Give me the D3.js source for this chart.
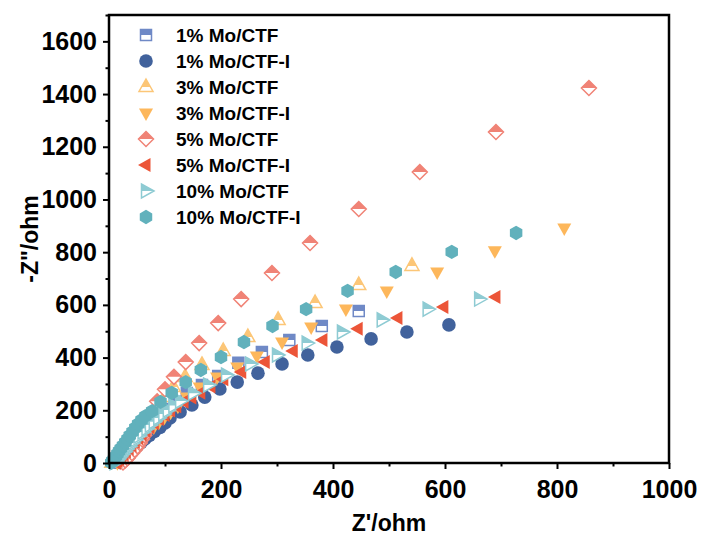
<!DOCTYPE html>
<html><head><meta charset="utf-8">
<script src="https://cdn.jsdelivr.net/npm/d3@7"></script>
<style>body{margin:0;background:#fff}svg{display:block}text{font-family:"Liberation Sans",Arial,sans-serif;font-weight:bold}</style>
</head><body><svg id="c" width="702" height="548"></svg>
<script>
// ---- data (Z' , -Z'') in ohm ----
const seriesNames = ["1% Mo/CTF","1% Mo/CTF-I","3% Mo/CTF","3% Mo/CTF-I","5% Mo/CTF","5% Mo/CTF-I","10% Mo/CTF","10% Mo/CTF-I"];
const xTicks = [0,200,400,600,800,1000];
const yTicks = [0,200,400,600,800,1000,1200,1400,1600];

const s1x = [12,15,19,23,27,32,37,42,48,54,61,68,76,85,95,106,118,139,166,195,231,273,322,380,446];
const s1y = [1,8,16,25,35,46,57,69,82,96,111,126,142,160,180,205,232,266,296,330,380,421,467,520,577];
const s2x = [20,24,28,33,38,44,50,57,64,72,81,91,100,109,127,148,171,198,229,266,309,355,407,468,532,607];
const s2y = [2,10,19,29,40,52,64,77,91,105,120,135,152,171,194,220,250,281,307,341,376,410,440,471,497,524];
const s3x = [5,8,11,14,17,21,25,29,34,39,45,51,58,66,75,86,100,115,136,166,204,248,302,368,446,541];
const s3y = [1,8,16,25,35,45,56,68,81,95,110,126,143,162,183,212,250,288,326,372,425,478,543,607,675,748];
const s4x = [15,19,23,27,32,37,43,49,56,63,71,80,89,99,110,123,139,162,193,229,264,309,361,423,496,586,689,813];
const s4y = [1,9,18,28,38,50,62,75,89,104,120,137,155,174,193,215,250,288,326,364,406,459,516,584,653,725,805,892];
const s5x = [25,29,33,37,41,46,51,55,59,63,67,71,75,80,86,100,116,137,161,195,236,291,359,446,555,691,857];
const s5y = [2,10,18,28,38,50,63,76,90,105,122,140,160,190,234,280,327,383,455,531,622,721,835,964,1104,1256,1423];
const s6x = [13,16,19,23,27,31,36,41,47,53,59,66,73,81,90,100,110,121,134,148,164,182,205,237,279,329,382,445,516,598,691];
const s6y = [1,8,16,25,34,44,55,67,80,94,108,122,137,152,167,182,199,215,232,249,267,290,318,345,383,425,467,509,550,592,630];
const s7x = [10,13,16,19,23,27,31,36,41,47,53,60,67,73,80,88,97,105,115,127,150,177,209,252,300,353,416,487,569,661];
const s7y = [1,8,16,24,33,43,53,64,76,89,103,118,131,144,157,171,186,201,218,235,265,296,334,376,410,455,497,543,584,622];
const s8x = [4,6,9,12,15,18,21,25,29,33,37,42,47,52,58,65,77,92,112,137,164,200,241,292,352,426,512,612,727];
const s8y = [1,8,16,25,35,45,55,66,78,91,104,118,133,148,163,178,197,232,266,307,353,402,459,520,584,653,725,801,873];

const colors = ["#6f89c6","#41629c","#fcc677","#fdb75b","#f08376","#ec5538","#8ecbd3","#61b1bc"];
const shapes = ["square","circle","up","down","diamond","left","right","hexagon"];
const halfFilled = [true,false,true,false,true,false,true,false];

const xs=[s1x,s2x,s3x,s4x,s5x,s6x,s7x,s8x], ys=[s1y,s2y,s3y,s4y,s5y,s6y,s7y,s8y];
const series = seriesNames.map((n,i)=>({name:n,color:colors[i],shape:shapes[i],half:halfFilled[i],
  pts:xs[i].map((x,j)=>({x:x,y:ys[i][j]}))}));

// ---- layout ----
const svg = d3.select("#c");
const L=109,R=669,T=15,B=463;
const x = d3.scaleLinear().domain([0,1000]).range([L,R]);
const y = d3.scaleLinear().domain([0,1700]).range([B,T]);

function shapePath(s){
  const p=(a)=>"M"+a.map(q=>q.join(",")).join("L")+"Z";
  switch(s){
    case "circle": return d3.symbol(d3.symbolCircle,145)();
    case "square": return p([[-5.5,-5.5],[5.5,-5.5],[5.5,5.5],[-5.5,5.5]]);
    case "up": return p([[0,-8],[7,4.5],[-7,4.5]]);
    case "down": return p([[0,8],[7,-4.5],[-7,-4.5]]);
    case "left": return p([[-8,0],[4.5,-7],[4.5,7]]);
    case "right": return p([[8,0],[-4.5,-7],[-4.5,7]]);
    case "diamond": return p([[0,-7.5],[7.5,0],[0,7.5],[-7.5,0]]);
    case "hexagon": { const a=[]; for(let k=0;k<6;k++){const t=Math.PI/180*(-90+60*k);a.push([7.2*Math.cos(t),7.2*Math.sin(t)]);} return p(a);}
  }
}
const defs = svg.append("defs");
defs.append("clipPath").attr("id","tophalf").append("rect").attr("x",-20).attr("y",-20).attr("width",40).attr("height",20);

function marker(g,s){
  const d=shapePath(s.shape);
  if(s.half){
    g.append("path").attr("d",d).attr("fill","#fff").attr("stroke",s.color).attr("stroke-width",1.5);
    g.append("path").attr("d",d).attr("fill",s.color).attr("clip-path","url(#tophalf)");
  } else {
    g.append("path").attr("d",d).attr("fill",s.color);
  }
}

// data
series.forEach(s=>{
  const g=svg.append("g");
  s.pts.forEach(pt=>{
    const m=g.append("g").attr("transform",`translate(${x(pt.x)},${y(pt.y)})`);
    marker(m,s);
  });
});

// frame
svg.append("rect").attr("x",L).attr("y",T).attr("width",R-L).attr("height",B-T).attr("fill","none").attr("stroke","#000").attr("stroke-width",2.5);

// axes
const xAx = d3.axisBottom(x).tickValues(xTicks).tickSize(6).tickSizeOuter(0).tickPadding(11).tickFormat(d3.format("d"));
svg.append("g").attr("transform",`translate(0,${B})`).call(xAx);
svg.append("g").attr("transform",`translate(0,${B})`).call(d3.axisBottom(x).tickValues(d3.range(100,1000,200)).tickSize(3.5).tickSizeOuter(0).tickFormat(""));
const yAx = d3.axisLeft(y).tickValues(yTicks).tickSize(6).tickSizeOuter(0).tickPadding(6).tickFormat(d3.format("d"));
svg.append("g").attr("transform",`translate(${L},0)`).call(yAx);
svg.append("g").attr("transform",`translate(${L},0)`).call(d3.axisLeft(y).tickValues(d3.range(100,1800,200)).tickSize(3.5).tickSizeOuter(0).tickFormat(""));
svg.selectAll(".domain").remove();
svg.selectAll(".tick line").attr("stroke","#000").attr("stroke-width",2);
svg.selectAll(".tick text").attr("fill","#000").style("font-size","25px").style("font-weight","bold");

svg.append("text").attr("x",(L+R)/2).attr("y",531).attr("text-anchor","middle").style("font-size","23px").text("Z'/ohm");
svg.append("text").attr("transform",`translate(38,${(T+B)/2}) rotate(-90)`).attr("text-anchor","middle").style("font-size","23px").text('-Z"/ohm');

// legend
const lg = svg.append("g");
series.forEach((s,i)=>{
  const yy=35+26*i;
  const m=lg.append("g").attr("transform",`translate(146,${yy})`);
  marker(m,s);
  lg.append("text").attr("x",176).attr("y",yy).attr("dy","0.35em").style("font-size","19px").text(s.name);
});
</script></body></html>
